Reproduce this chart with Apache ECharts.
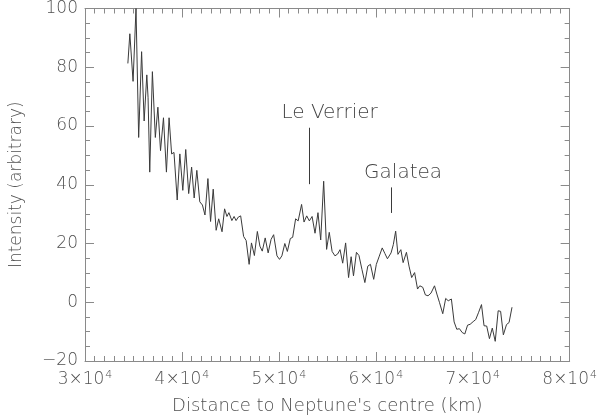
<!DOCTYPE html>
<html>
<head>
<meta charset="utf-8">
<script src="https://cdn.jsdelivr.net/npm/echarts@6/dist/echarts.min.js"></script>
<style>
  html, body { margin: 0; padding: 0; background: #fff; }
  #chart { width: 600px; height: 420px; }
</style>
</head>
<body>
<div id="chart"></div>
<script>
// distance (km) and intensity
const distance = [
  34422, 34625, 34959, 35262, 35536, 35839, 36102, 36376, 36507, 36679,
  36952, 37256, 37519, 37792, 38096, 38400, 38673, 38936, 39179, 39513,
  39786, 40090, 40393, 40697, 41000, 41264, 41537, 41840, 42114, 42377,
  42680, 42954, 43227, 43530, 43793, 44138, 44401, 44644, 44846, 45150,
  45382, 45585, 45818, 46060, 46364, 46627, 46931, 47174, 47477, 47781,
  48044, 48287, 48590, 48894, 49198, 49461, 49805, 50068, 50311, 50614,
  50878, 51181, 51424, 51728, 51991, 52345, 52598, 52872, 53144, 53428,
  53731, 54035, 54318, 54622, 54925, 55199, 55493, 55786, 56059, 56312,
  56585, 56889, 57192, 57456, 57699, 58002, 58265, 58569, 58873, 59176,
  59449, 59783, 60056, 60360, 60664, 60937, 61200, 61574, 61807, 62050,
  62283, 62586, 62819, 63163, 63426, 63700, 64003, 64307, 64540, 64843,
  65116, 65390, 65693, 66058, 66301, 66564, 66908, 67212, 67475, 67799,
  68082, 68355, 68628, 68911, 69185, 69468, 69732, 70045, 70308, 70612,
  70905, 71168, 71441, 71725, 72018, 72322, 72625, 72878, 73162, 73486,
  73749, 74053
];
const intensity = [
  81.3, 91.4, 75.2, 100, 56.1, 85.3, 61.7, 77.4, 69.6, 44.3,
  78.5, 56.1, 66.4, 51.6, 62.8, 44.3, 62.8, 50.5, 51.0, 34.8,
  50.5, 38.1, 52.0, 37.0, 46.0, 35.5, 44.9, 34.2, 33.1, 29.7,
  42.1, 27.5, 38.5, 24.5, 28.4, 24.0, 31.8, 29.2, 30.5, 27.8,
  29.2, 27.8, 29.0, 29.4, 22.4, 21.0, 12.9, 20.2, 15.9, 24.1,
  19.1, 17.4, 21.9, 16.8, 21.4, 23.0, 15.8, 14.6, 15.8, 20.0,
  17.3, 21.7, 22.1, 28.4, 27.7, 33.3, 27.3, 29.4, 27.7, 29.2,
  23.5, 30.5, 21.2, 41.2, 18.0, 23.8, 17.3, 15.8, 16.4, 17.9,
  13.3, 20.2, 8.4, 15.5, 9.0, 17.0, 15.9, 11.2, 6.7, 12.3,
  12.9, 7.8, 12.9, 15.7, 18.5, 16.6, 14.8, 16.8, 19.6, 24.2,
  16.3, 17.9, 13.5, 17.0, 12.3, 8.4, 10.1, 4.5, 5.6, 5.1,
  2.5, 2.2, 3.1, 5.6, 2.8, 0, -3.9, 1.3, 0.5, 1.1,
  -6.7, -9.2, -9.0, -10.3, -10.8, -7.8, -7.5, -6.6, -5.9, -3.4,
  -0.8, -8.0, -8.1, -12.4, -8.8, -13.3, -2.9, -3.1, -11.1, -7.6,
  -6.9, -1.7
];
// moon markers: name, distance, line bottom, line top
const moonNames = ['Le Verrier', 'Galatea'];
const moonDist = [53175, 61574];
const moonLow = [40.2, 30.4];
const moonHigh = [59.4, 39.1];

const axisColor = '#8a8a8a';
const textColor = '#505050';
const fontFamily = 'DejaVu Sans';
const fontWeight = 200;

const chart = echarts.init(document.getElementById('chart'));

const baseX = {
  type: 'value',
  min: 30000,
  max: 80000,
  interval: 10000,
  axisLine: { show: true, onZero: false, lineStyle: { color: axisColor } },
  axisTick: { show: true, inside: true, length: 9, lineStyle: { color: axisColor } },
  minorTick: { show: true, splitNumber: 10, length: 5, lineStyle: { color: axisColor } },
  splitLine: { show: false }
};
const baseY = {
  type: 'value',
  min: -20,
  max: 100,
  interval: 20,
  axisLine: { show: true, onZero: false, lineStyle: { color: axisColor } },
  axisTick: { show: true, inside: true, length: 9, lineStyle: { color: axisColor } },
  minorTick: { show: true, splitNumber: 4, length: 5, lineStyle: { color: axisColor } },
  splitLine: { show: false }
};

// labels sit a little right of their marker lines
const labelShift = [20, 12];
const markData = moonNames.map((name, i) => [
  { coord: [moonDist[i], moonLow[i]], name: name, label: { offset: [labelShift[i], 0] } },
  { coord: [moonDist[i], moonHigh[i]] }
]);

chart.setOption({
  animation: false,
  textStyle: { fontFamily: fontFamily, fontWeight: fontWeight },
  grid: { left: 77, right: 28, top: 6, bottom: 57 },
  xAxis: [
    Object.assign({}, baseX, {
      position: 'bottom',
      name: "Distance to Neptune's centre (km)",
      nameLocation: 'middle',
      nameGap: 36,
      nameTextStyle: { color: textColor, fontSize: 18, fontFamily: fontFamily, fontWeight: fontWeight },
      axisLabel: {
        margin: 9,
        color: textColor,
        formatter: v => '{m|' + (v / 10000) + '×10}{e|4}',
        rich: {
          m: { fontSize: 17, color: textColor, fontFamily: fontFamily, fontWeight: fontWeight },
          e: { fontSize: 11, color: textColor, fontFamily: fontFamily, fontWeight: fontWeight, verticalAlign: 'top', padding: [0, 0, 9, 1] }
        }
      }
    }),
    Object.assign({}, baseX, { position: 'top', axisLabel: { show: false } })
  ],
  yAxis: [
    Object.assign({}, baseY, {
      position: 'left',
      name: 'Intensity (arbitrary)',
      nameLocation: 'middle',
      nameGap: 60,
      nameTextStyle: { color: textColor, fontSize: 17, fontFamily: fontFamily, fontWeight: fontWeight },
      axisLabel: {
        margin: 7,
        color: textColor,
        fontSize: 17,
        fontWeight: fontWeight,
        formatter: v => String(v).replace('-', '−')
      }
    }),
    Object.assign({}, baseY, { position: 'right', axisLabel: { show: false } })
  ],
  series: [{
    type: 'line',
    data: distance.map((d, i) => [d, intensity[i]]),
    symbol: 'none',
    lineStyle: { color: '#3a3a3a', width: 1 },
    clip: true,
    markLine: {
      silent: true,
      symbol: 'none',
      lineStyle: { color: '#3a3a3a', width: 1, type: 'solid' },
      label: {
        show: true,
        position: 'end',
        distance: 5,
        formatter: '{b}',
        color: '#444',
        fontSize: 20,
        fontFamily: fontFamily,
        fontWeight: fontWeight
      },
      data: markData
    }
  }]
});
</script>
</body>
</html>
